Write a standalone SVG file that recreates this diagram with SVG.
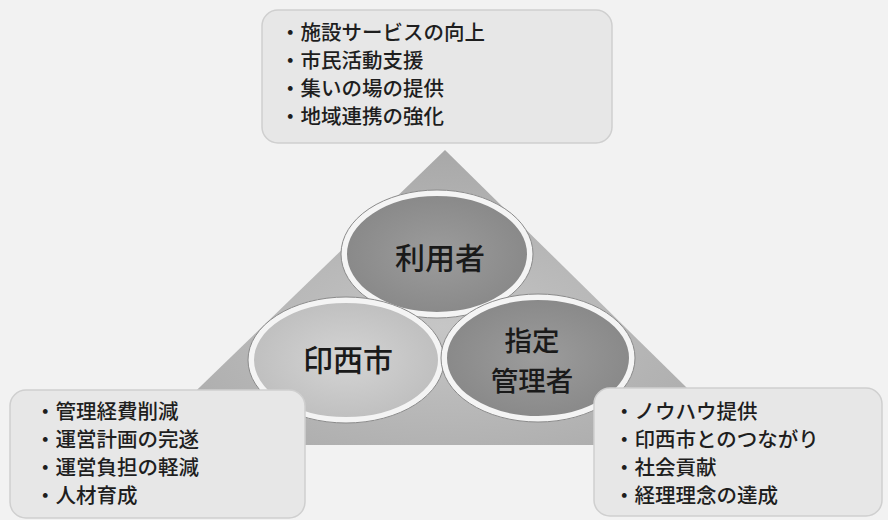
<svg xmlns="http://www.w3.org/2000/svg" width="888" height="520" viewBox="0 0 888 520">
<defs>
<style>
.box{fill:#e7e7e7;stroke:#cfcfcf;stroke-width:1.5}
.t{font-family:"Noto Sans CJK JP","Noto Sans",sans-serif;font-size:20.5px;font-weight:500;fill:#1e1e1e}
.big{font-family:"Noto Sans CJK JP","Noto Sans",sans-serif;font-size:30px;font-weight:500;fill:#1a1a1a;text-anchor:middle}
.ring{stroke:#f4f4f4;stroke-width:6}
.edge{fill:none;stroke:#8a8a8a;stroke-width:1}
</style>
<radialGradient id="tri" cx="0.5" cy="0.6" r="0.6">
<stop offset="0" stop-color="#c6c6c6"/>
<stop offset="1" stop-color="#a8a8a8"/>
</radialGradient>
<radialGradient id="dark" cx="0.5" cy="0.5" r="0.55">
<stop offset="0" stop-color="#9c9c9c"/>
<stop offset="1" stop-color="#878787"/>
</radialGradient>
<radialGradient id="light" cx="0.5" cy="0.5" r="0.55">
<stop offset="0" stop-color="#d4d4d4"/>
<stop offset="1" stop-color="#bdbdbd"/>
</radialGradient>
</defs>
<rect width="888" height="520" fill="#f2f2f2"/>
<g id="triangle">
<polygon points="445,150 745,445 140,445" fill="url(#tri)"/>
</g>
<g id="node-riyousha">
<ellipse cx="437" cy="254" rx="93" ry="61" fill="url(#dark)" class="ring"/>
<ellipse cx="437" cy="254" rx="96" ry="64" class="edge"/>
<text x="440" y="269" class="big">利用者</text>
</g>
<g id="node-inzaishi">
<ellipse cx="346" cy="360" rx="95" ry="60" fill="url(#light)" class="ring"/>
<ellipse cx="346" cy="360" rx="98" ry="63" class="edge"/>
<text x="348" y="371" class="big">印西市</text>
</g>
<g id="node-shitei">
<ellipse cx="538" cy="358" rx="94" ry="61" fill="url(#dark)" class="ring"/>
<ellipse cx="538" cy="358" rx="97" ry="64" class="edge"/>
<text x="532" y="351" class="big" style="font-size:27.5px">指定</text>
<text x="532" y="391" class="big" style="font-size:27.5px">管理者</text>
</g>
<g id="connectors"></g>
<g id="box-top">
<rect x="262" y="10" width="350" height="133" rx="16" class="box"/>
<text class="t" x="280" y="40">・施設サービスの向上</text>
<text class="t" x="280" y="68">・市民活動支援</text>
<text class="t" x="280" y="96">・集いの場の提供</text>
<text class="t" x="280" y="124">・地域連携の強化</text>
</g>
<g id="box-left">
<rect x="10" y="390" width="295" height="128" rx="16" class="box"/>
<text class="t" x="35" y="419">・管理経費削減</text>
<text class="t" x="35" y="447">・運営計画の完遂</text>
<text class="t" x="35" y="475">・運営負担の軽減</text>
<text class="t" x="35" y="503">・人材育成</text>
</g>
<g id="box-right">
<rect x="594" y="388" width="288" height="128" rx="16" class="box"/>
<text class="t" x="614" y="419">・ノウハウ提供</text>
<text class="t" x="614" y="447">・印西市とのつながり</text>
<text class="t" x="614" y="475">・社会貢献</text>
<text class="t" x="614" y="503">・経理理念の達成</text>
</g>
</svg>
